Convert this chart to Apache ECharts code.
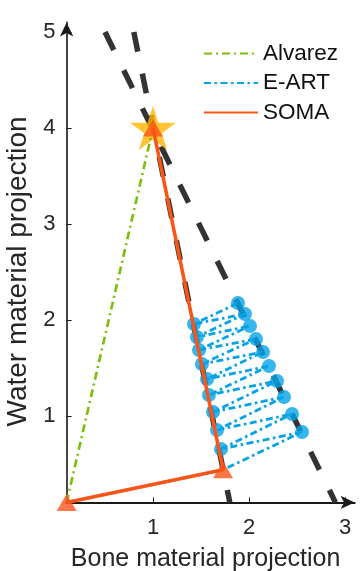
<!DOCTYPE html>
<html>
<head>
<meta charset="utf-8">
<script src="https://cdn.jsdelivr.net/npm/echarts@6/dist/echarts.min.js"></script>
<style>
html,body{margin:0;padding:0;background:#fff;}
#chart{width:363px;height:571px;}
</style>
</head>
<body>
<div id="chart"></div>
<script>
// ---- data ----
const xTicks = [1, 2, 3];
const yTicks = [1, 2, 3, 4, 5];
const isoLineA = [[0.5, 5.0], [2.9, 0.1]];
const isoLineB = [[0.8, 5.0], [1.8, 0.1]];
const truthPoint = [[1, 4]];
const alvarez = [[0.1, 0.1], [1, 4]];
const soma = [[0.1, 0.1], [1.73, 0.44], [1, 4]];
const eartStart = [[0.1, 0.1], [1.73, 0.44]];
const eartRight = [[1.885, 2.177], [1.958, 2.063], [2.010, 1.938], [2.073, 1.802], [2.146, 1.667],
                   [2.208, 1.521], [2.292, 1.365], [2.365, 1.198], [2.448, 1.021], [2.552, 0.833]];
const eartLeft = [[1.427, 1.958], [1.458, 1.823], [1.479, 1.688], [1.510, 1.542], [1.563, 1.385],
                  [1.583, 1.219], [1.625, 1.042], [1.667, 0.854], [1.708, 0.656]];

// build E-ART path: start -> R10 -> L9 -> R9 -> ... -> L1 -> R1
const eartPath = eartStart.slice();
for (let i = eartRight.length - 1; i >= 0; i--) {
  eartPath.push(eartRight[i]);
  if (i > 0) eartPath.push(eartLeft[i - 1]);
}
const eartDots = eartRight.concat(eartLeft);
const somaMarkers = soma;

const FONT = '"Liberation Sans", Arial, sans-serif';
const GREEN = '#7ABE0A', BLUE = '#05A2E8', ORANGE = '#FA5518', STAR = '#FFB400', DARK = '#333333';

const chart = echarts.init(document.getElementById('chart'), null, {renderer: 'canvas'});
chart.setOption({
  animation: false,
  backgroundColor: '#fff',
  grid: {left: 66.6, right: 8.4, top: 22.4, bottom: 68.6, containLabel: false, outerBoundsMode: 'none'},
  legend: {
    orient: 'vertical', left: 203, top: 42, padding: 0, itemWidth: 54, itemHeight: 14, itemGap: 6.5,
    data: ['Alvarez', 'E-ART', 'SOMA'],
    textStyle: {fontSize: 22.5, fontFamily: FONT, color: '#111'},
    itemStyle: {opacity: 0}
  },
  xAxis: {
    type: 'value', min: 0.1, max: 3.1,
    name: 'Bone material projection', nameLocation: 'middle', nameGap: 44.5,
    nameTextStyle: {fontSize: 25, fontFamily: FONT, color: '#262626', padding: [0, 10, 0, 0]},
    axisLine: {show: true, onZero: false, symbol: ['none', 'arrow'], symbolSize: [10, 14],
               lineStyle: {color: '#1a1a1a', width: 2.2}},
    axisTick: {show: true, inside: true, length: 5, customValues: xTicks, lineStyle: {color: '#1a1a1a', width: 1}},
    axisLabel: {show: true, customValues: xTicks, margin: 15, fontSize: 22, fontFamily: FONT, color: '#262626'},
    splitLine: {show: false}
  },
  yAxis: {
    type: 'value', min: 0.1, max: 5.1,
    name: 'Water material projection', nameLocation: 'middle', nameGap: 31, nameRotate: 90,
    nameTextStyle: {fontSize: 28, fontFamily: FONT, color: '#262626', padding: [0, 18, 0, 0]},
    axisLine: {show: true, onZero: false, symbol: ['none', 'arrow'], symbolSize: [10, 14],
               lineStyle: {color: '#1a1a1a', width: 1.6}},
    axisTick: {show: true, inside: true, length: 5, customValues: yTicks, lineStyle: {color: '#1a1a1a', width: 1}},
    axisLabel: {show: true, customValues: yTicks, margin: 11, fontSize: 22, fontFamily: FONT, color: '#262626'},
    splitLine: {show: false}
  },
  series: [
    {type: 'line', name: 'isoA', data: isoLineA, symbol: 'none', z: 1, silent: true,
     lineStyle: {color: DARK, width: 5.5, type: [20, 22.5], cap: 'butt'}},
    {type: 'line', name: 'isoB', data: isoLineB, symbol: 'none', z: 1, silent: true,
     lineStyle: {color: DARK, width: 5.5, type: [20, 22.5], cap: 'butt'}},
    {type: 'scatter', name: 'truth', data: truthPoint, z: 2,
     symbol: 'path://M50,0 L61.2,34.5 L97.6,34.5 L68.2,55.9 L79.4,90.5 L50,69.1 L20.6,90.5 L31.8,55.9 L2.4,34.5 L38.8,34.5 Z',
     symbolSize: [46, 44], itemStyle: {color: STAR}},
    {type: 'line', name: 'Alvarez', data: alvarez, symbol: 'none', z: 3, color: GREEN,
     lineStyle: {color: GREEN, width: 2.6, type: [8, 4, 2, 4]}},
    {type: 'line', name: 'E-ART', data: eartPath, symbol: 'none', z: 4, color: BLUE,
     lineStyle: {color: BLUE, width: 2.8, type: [7, 3.5, 2.5, 3.5]}},
    {type: 'scatter', name: 'eartDots', data: eartDots, symbol: 'circle', symbolSize: 14, z: 5,
     itemStyle: {color: BLUE}},
    {type: 'line', name: 'SOMA', data: soma, symbol: 'none', z: 6, color: ORANGE,
     lineStyle: {color: ORANGE, width: 3.6}},
    {type: 'scatter', name: 'somaMarkers', data: somaMarkers, symbol: 'triangle', symbolSize: [20, 17], z: 7,
     itemStyle: {color: ORANGE}}
  ]
});
</script>
</body>
</html>
